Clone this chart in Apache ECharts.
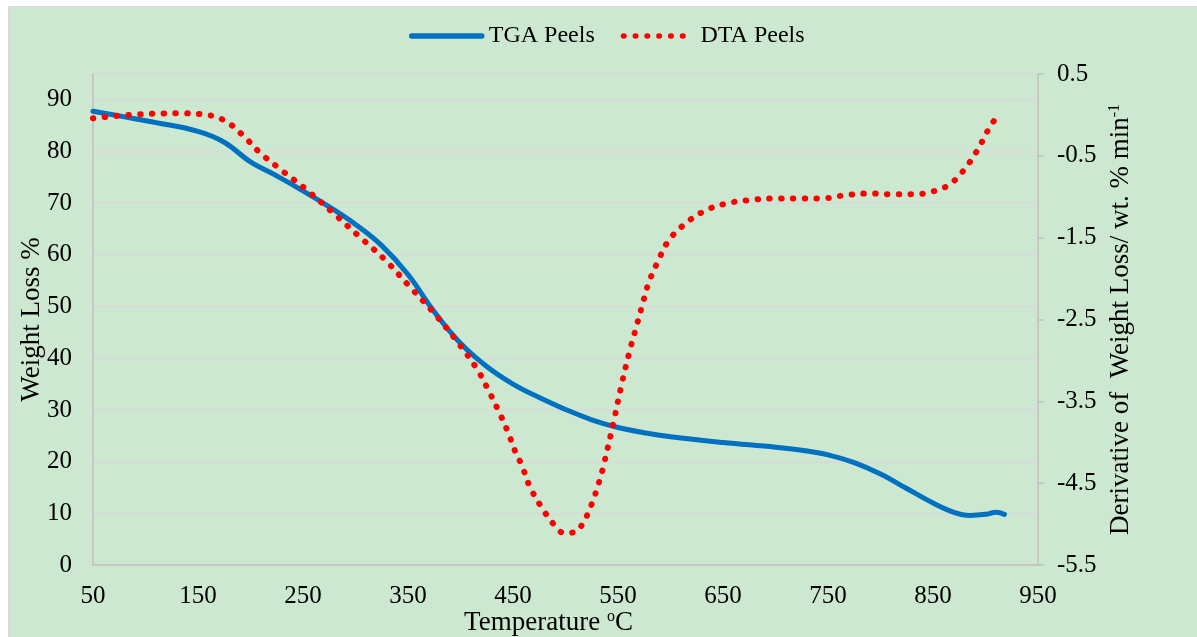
<!DOCTYPE html>
<html>
<head>
<meta charset="utf-8">
<script src="https://cdn.jsdelivr.net/npm/echarts@6/dist/echarts.min.js"></script>
<style>
html,body{margin:0;padding:0;background:#fff;}
#main{width:1197px;height:637px;}
</style>
</head>
<body>
<div id="main"></div>
<script>
// Temperature (°C) and TGA weight loss (%)
const tgaTemp = [50,80,110,150,175,200,225,250,275,300,325,350,375,400,425,450,475,500,525,550,575,600,650,700,725,750,775,800,825,850,870,885,900,910,918];
const tgaValues = [87.8,86.7,85.6,83.9,81.8,78.0,75.3,72.4,69.3,65.9,61.8,56.2,49.0,42.9,38.4,35.0,32.4,30.1,28.1,26.6,25.6,24.8,23.7,22.8,22.2,21.3,19.8,17.6,14.8,12.0,10.2,9.6,9.8,10.2,9.8];
// Temperature (°C) and DTA derivative of weight loss (wt.% / min)
const dtaTemp = [50,85,130,152,174,192,208,225,242,252,278,303,328,351,374,395,415,426,436,445,453,458,466,477,490,499,510,517,522,526,530,533,536,546,553,561,567,573,579,588,598,614,633,654,676,699,721,744,767,789,812,834,845,856,866,875,882,888,894,899,904,911];
const dtaValues = [-0.04,0.0,0.02,0.01,-0.06,-0.24,-0.45,-0.63,-0.80,-0.90,-1.19,-1.48,-1.77,-2.09,-2.41,-2.74,-3.09,-3.35,-3.61,-3.87,-4.14,-4.27,-4.54,-4.79,-5.02,-5.11,-5.09,-4.98,-4.85,-4.72,-4.57,-4.44,-4.30,-3.74,-3.32,-2.89,-2.61,-2.33,-2.06,-1.79,-1.54,-1.33,-1.17,-1.08,-1.04,-1.02,-1.02,-1.02,-0.98,-0.96,-0.97,-0.97,-0.95,-0.91,-0.85,-0.74,-0.63,-0.52,-0.39,-0.27,-0.15,-0.02];
const seriesNames = ['TGA Peels','DTA Peels'];
const xTicks = {min:50, max:950, interval:100};
const leftTicks = {min:0, max:95, interval:10};
const rightTicks = {min:-5.5, max:0.5, interval:1};

const tgaData = tgaTemp.map((t,i)=>[t,tgaValues[i]]);
const dtaData = dtaTemp.map((t,i)=>[t,dtaValues[i]]);

const FONT = '"Liberation Serif","DejaVu Serif",serif';
const SUP = {sup:{fontFamily:FONT, fontSize:16, color:'#000', verticalAlign:'top', padding:[0,0,12,0]}};
const chart = echarts.init(document.getElementById('main'), null, {renderer:'canvas'});
chart.setOption({
  animation:false,
  backgroundColor:'#ffffff',
  graphic:[{
    type:'rect', z:-10, silent:true,
    shape:{x:8.5,y:6.5,width:1200,height:640},
    style:{fill:'#CDE8D1', stroke:'#D9D9D9', lineWidth:1}
  }],
  legend:{
    top:19, left:404,
    itemWidth:70, itemHeight:5, itemGap:26,
    itemStyle:{opacity:0},
    lineStyle:{width:5.5},
    textStyle:{fontFamily:FONT, fontSize:24, color:'#000', padding:[0,0,0,2]},
    data:seriesNames
  },
  grid:{left:93, right:159, top:74, bottom:72, outerBoundsMode:'none', containLabel:false},
  xAxis:{
    type:'value', min:xTicks.min, max:xTicks.max, interval:xTicks.interval,
    name:'Temperature {sup|o}C', nameLocation:'middle', nameGap:44, nameMoveOverlap:false,
    nameTextStyle:{fontFamily:FONT, fontSize:27, color:'#000', padding:[0,34,0,0], rich:SUP},
    axisLine:{show:true, lineStyle:{color:'#BFBFBF', width:1.5}},
    axisTick:{show:false},
    splitLine:{show:false},
    axisLabel:{fontFamily:FONT, fontSize:25, color:'#000', margin:19}
  },
  yAxis:[{
    type:'value', min:leftTicks.min, max:leftTicks.max, interval:leftTicks.interval,
    name:'Weight Loss %', nameLocation:'middle', nameGap:48, nameRotate:90, nameMoveOverlap:false,
    nameTextStyle:{fontFamily:FONT, fontSize:27, color:'#000'},
    axisLine:{show:true, lineStyle:{color:'#BFBFBF', width:1.5}},
    axisTick:{show:false},
    splitLine:{show:true, lineStyle:{color:'#D9D9D9', width:1.5}},
    axisLabel:{fontFamily:FONT, fontSize:25, color:'#000', margin:21,
      formatter:v=> (v % 10 === 0 ? String(v) : '')}
  },{
    type:'value', position:'right', min:rightTicks.min, max:rightTicks.max, interval:rightTicks.interval,
    name:'Derivative of  Weight Loss/ wt. % min{sup|-1}', nameLocation:'middle', nameGap:69, nameRotate:90, nameMoveOverlap:false,
    nameTextStyle:{fontFamily:FONT, fontSize:27, color:'#000', rich:SUP},
    axisLine:{show:true, lineStyle:{color:'#BFBFBF', width:1.5}},
    axisTick:{show:true, inside:false, length:6, lineStyle:{color:'#BFBFBF', width:1.5}},
    splitLine:{show:false},
    axisLabel:{fontFamily:FONT, fontSize:25, color:'#000', margin:19,
      formatter:v=>v.toFixed(1)}
  }],
  series:[{
    name:seriesNames[0], type:'line', yAxisIndex:0, data:tgaData,
    smooth:0.4, showSymbol:false, symbol:'none',
    lineStyle:{color:'#0070C0', width:5, cap:'round'},
    itemStyle:{color:'#0070C0'}
  },{
    name:seriesNames[1], type:'line', yAxisIndex:1, data:dtaData,
    smooth:0.4, showSymbol:false, symbol:'none',
    lineStyle:{color:'#FF0000', width:6, type:[0.5,11.3], cap:'round'},
    itemStyle:{color:'#FF0000'}
  }]
});
</script>
</body>
</html>
